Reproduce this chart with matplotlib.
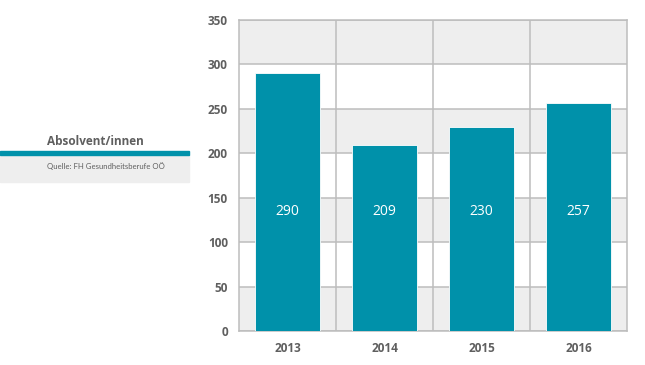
import matplotlib
matplotlib.use("Agg")
import matplotlib.pyplot as plt
from matplotlib.patches import Rectangle

years = ["2013", "2014", "2015", "2016"]
values = [290, 209, 230, 257]
y_ticks = [0, 50, 100, 150, 200, 250, 300, 350]
title = "Absolvent/innen"
source = "Quelle: FH Gesundheitsberufe OÖ"

teal = "#0091AA"
band = "#EEEEEE"
grid = "#BDBDBD"
txt = "#5F5F5F"

W, H = 645, 365
fig = plt.figure(figsize=(W / 100, H / 100), dpi=100)
ax = fig.add_axes([239 / W, 1 - 331 / H, (627 - 239) / W, (331 - 20) / H])

x = list(range(len(years)))
ax.set_xlim(-0.5, len(years) - 0.5)
ax.set_ylim(0, 350)

for i in range(0, len(y_ticks) - 1):
    if i % 2 == 0:
        ax.axhspan(y_ticks[i], y_ticks[i + 1], color=band, zorder=0, lw=0)
for yt in y_ticks:
    ax.axhline(yt, color=grid, lw=1.1, zorder=1)
for xv in [i + 0.5 for i in x[:-1]]:
    ax.axvline(xv, color=grid, lw=1.1, zorder=1)

ax.bar(x, values, width=0.66, color=teal, edgecolor="white", linewidth=0.6, zorder=3)
for xi, v in zip(x, values):
    ax.text(xi, 135, str(v), ha="center", va="center", color="white",
            fontsize=10, family="Open Sans", zorder=4)

ax.set_xticks(x)
ax.set_xticklabels(years)
ax.set_yticks(y_ticks)
ax.tick_params(length=0, colors=txt, labelsize=8.5, pad=8)
for lab in ax.get_xticklabels() + ax.get_yticklabels():
    lab.set_fontfamily("Open Sans")
    lab.set_fontweight("bold")
    lab.set_color(txt)
for s in ax.spines.values():
    s.set_color(grid)
    s.set_linewidth(1.1)

fig.patches.append(Rectangle((0, 1 - 182 / H), 189 / W, 27 / H, transform=fig.transFigure,
                             color=band, zorder=0))
fig.patches.append(Rectangle((0, 1 - 155 / H), 189 / W, 4 / H, transform=fig.transFigure,
                             color=teal, zorder=1))
fig.text(47 / W, 1 - 142 / H, title, ha="left", va="center", fontsize=8.5,
         fontweight="bold", color=txt, family="Open Sans")
fig.text(47 / W, 1 - 166 / H, source, ha="left", va="center", fontsize=5.6,
         color=txt, family="Lato")

fig.savefig("out.png", dpi=100)
